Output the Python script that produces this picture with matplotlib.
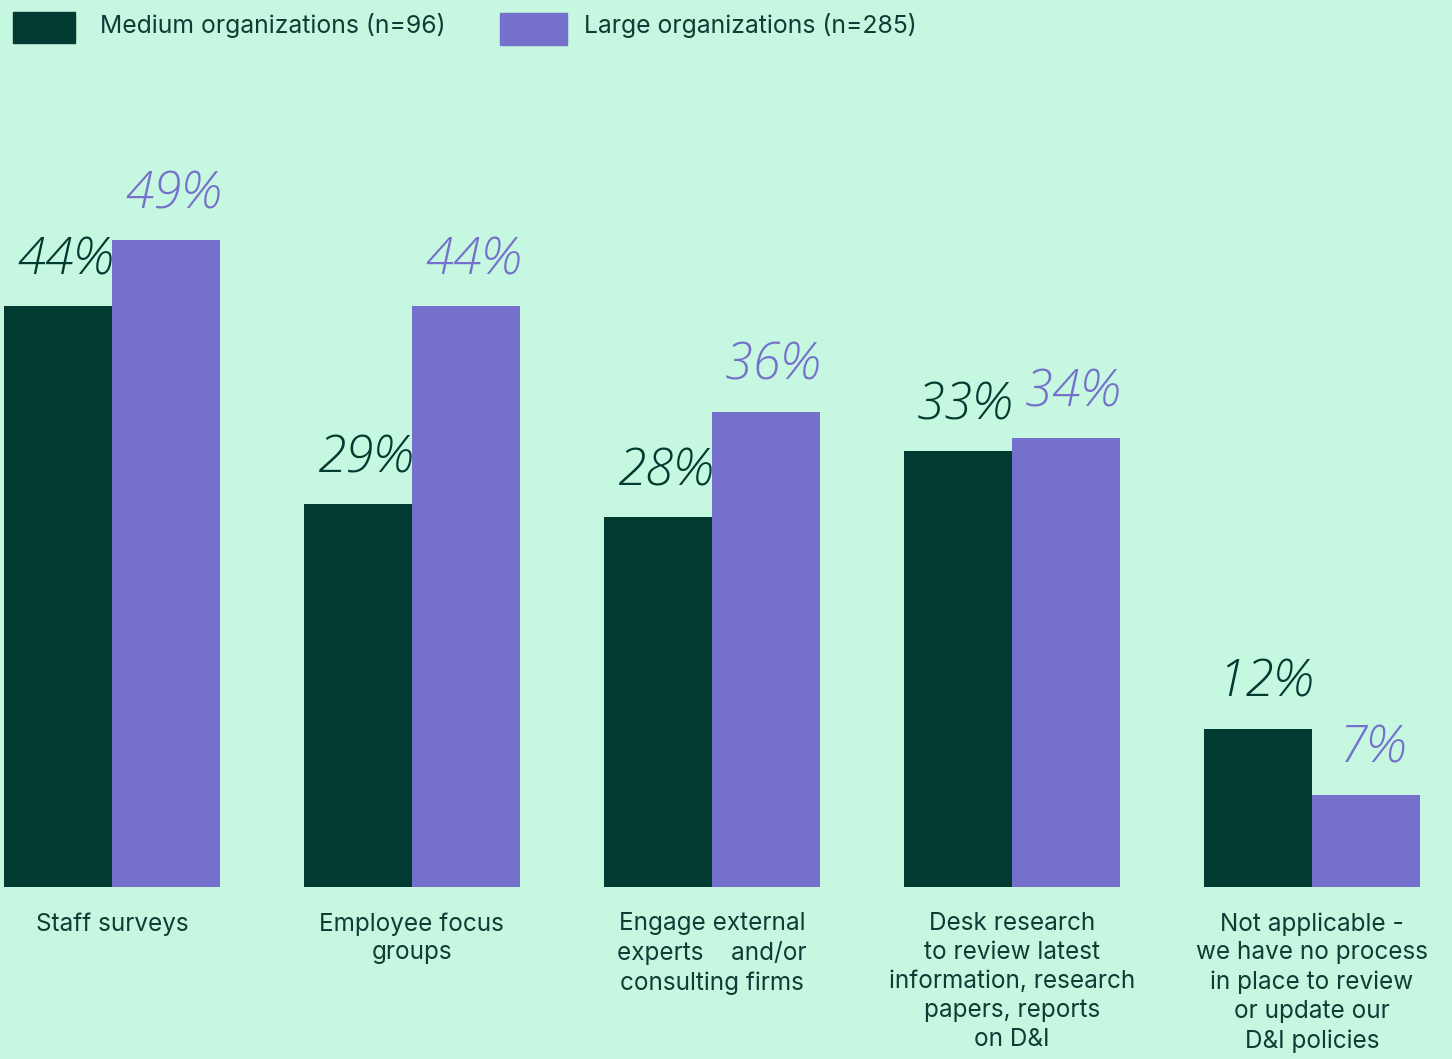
import numpy as np
import matplotlib.pyplot as plt

# Survey results: how organizations review their D&I policies
categories = [
    "Staff surveys",
    "Employee focus\ngroups",
    "Engage external\nexperts    and/or\nconsulting firms",
    "Desk research\nto review latest\ninformation, research\npapers, reports\non D&I",
    "Not applicable -\nwe have no process\nin place to review\nor update our\nD&I policies",
]
medium = [44, 29, 28, 33, 12]
large = [49, 44, 36, 34, 7]
series_names = ["Medium organizations (n=96)", "Large organizations (n=285)"]

BG = "#c6f7e0"
DARK = "#003a30"
PURPLE = "#7470cc"
TEXT = "#0d3d34"

plt.rcParams['font.family'] = ['Inter', 'DejaVu Sans']

fig = plt.figure(figsize=(14.52, 10.59), dpi=100)
fig.patch.set_facecolor(BG)
ax = fig.add_axes([0, 172 / 1059, 1, 792 / 1059])
ax.set_facecolor(BG)

x = np.arange(len(categories))
width = 0.362
off = 0.18
b1 = ax.bar(x - off, medium, width, color=DARK, linewidth=0)
b2 = ax.bar(x + off, large, width, color=PURPLE, linewidth=0)

ax.set_xlim(-0.373, 4.467)
ax.set_ylim(0, 60)
ax.axis('off')

# value labels above each bar, thin slanted hand
for bars, vals, col in [(b1, medium, DARK), (b2, large, PURPLE)]:
    for rect, v in zip(bars, vals):
        ax.annotate(f"{v}%", (rect.get_x() + rect.get_width() / 2, v),
                    xytext=(5, 14), textcoords='offset points',
                    ha='center', va='bottom', fontsize=37, color=col,
                    fontstyle='italic', fontweight='light',
                    family=['Open Sans', 'DejaVu Sans'])

# category labels under the groups
for i, cat in enumerate(categories):
    ax.annotate(cat, (i, 0), xycoords=('data', 'axes fraction'),
                xytext=(0, -18), textcoords='offset points',
                ha='center', va='top', fontsize=17.5, color=TEXT,
                linespacing=1.33)

# legend along the top
fig.patches.append(plt.Rectangle((13 / 1452, 1 - 43 / 1059), 62 / 1452, 31 / 1059,
                                 transform=fig.transFigure, color=DARK))
fig.patches.append(plt.Rectangle((500 / 1452, 1 - 45 / 1059), 67 / 1452, 32 / 1059,
                                 transform=fig.transFigure, color=PURPLE))
fig.text(100 / 1452, 1 - 25 / 1059, series_names[0], fontsize=17.8, color=TEXT, va='center')
fig.text(584 / 1452, 1 - 25 / 1059, series_names[1], fontsize=17.8, color=TEXT, va='center')

fig.savefig("out.png", dpi=100, facecolor=BG)
